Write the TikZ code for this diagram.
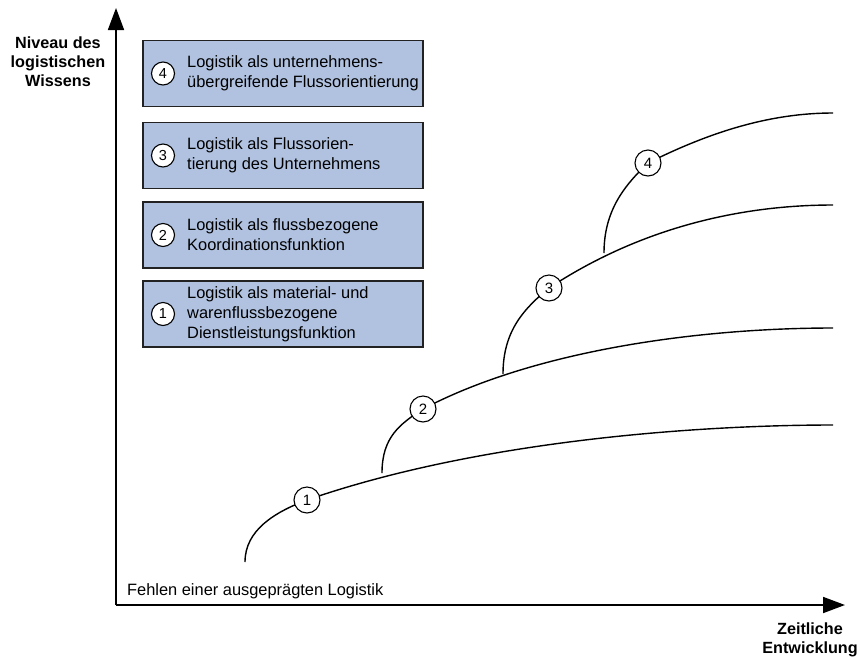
\documentclass[tikz,border=0pt]{standalone}
\usepackage{fontspec}
\setmainfont{Liberation Sans}
\usetikzlibrary{arrows.meta}
\definecolor{boxblue}{HTML}{B0C2E0}
\definecolor{boxline}{HTML}{222222}
\begin{document}
\begin{tikzpicture}[x=1pt,y=-1pt,
  axis/.style={line width=1.8pt,-{Triangle[length=22pt,width=16pt]}},
  curve/.style={line width=1.4pt},
  lvlbox/.style={draw=boxline,line width=1.8pt,fill=boxblue,minimum width=280pt,minimum height=66pt,inner sep=0pt},
  boxnum/.style={draw,circle,fill=white,line width=1.1pt,minimum size=23pt,inner sep=0pt,font=\fontsize{14.5}{16}\selectfont},
  curvenum/.style={draw,circle,fill=white,line width=1.1pt,minimum size=26pt,inner sep=0pt,font=\fontsize{15}{16}\selectfont},
  boxtext/.style={anchor=west,align=left,inner sep=0pt,font=\fontsize{16.4}{20}\selectfont},
  axlabel/.style={align=center,inner sep=0pt,font=\bfseries\fontsize{16.2}{19}\selectfont}
]
\useasboundingbox (0,0) rectangle (860,657);
% axes
\coordinate (O) at (116,605);
\coordinate (ytip) at (116,8);
\coordinate (xtip) at (845,605);
\draw[axis] (O) -- (ytip);
\draw[axis] (O) -- (xtip);
\node[axlabel] (ylab) at (58,62) {Niveau des\\logistischen\\Wissens};
\node[axlabel] (xlab) at (810,640) {Zeitliche\\Entwicklung};
\node[anchor=west,inner sep=0pt,font=\fontsize{16.4}{19}\selectfont] (fehlen) at (127,591) {Fehlen einer ausgeprägten Logistik};
% boxes
\node[lvlbox] (b4) at (283,73.5) {};
\node[boxnum] (n4) at (163,73.5) {4};
\node[boxtext] (t4) at (187,73.5) {Logistik als unternehmens-\\übergreifende Flussorientierung};
\node[lvlbox] (b3) at (283,155.5) {};
\node[boxnum] (n3) at (163,155.5) {3};
\node[boxtext] (t3) at (187,155.5) {Logistik als Flussorien-\\tierung des Unternehmens};
\node[lvlbox] (b2) at (283,235) {};
\node[boxnum] (n2) at (163,235) {2};
\node[boxtext] (t2) at (187,235) {Logistik als flussbezogene\\Koordinationsfunktion};
\node[lvlbox] (b1) at (283,314) {};
\node[boxnum] (n1) at (163,314) {1};
\node[boxtext] (t1) at (187,314) {Logistik als material- und\\warenflussbezogene\\Dienstleistungsfunktion};
% curve points
\coordinate (s1) at (245,562);
\coordinate (p1) at (307,500);
\coordinate (e1) at (833,425);
\coordinate (j1) at (382,473);
\coordinate (p2) at (423,409);
\coordinate (e2) at (833,328);
\coordinate (j2) at (503,374);
\coordinate (p3) at (549,288);
\coordinate (e3) at (833,205);
\coordinate (j3) at (604,253);
\coordinate (p4) at (648,163);
\coordinate (e4) at (833,113);
\draw[curve] (s1) .. controls (245,530) and (275,512) .. (p1)
  .. controls (480,440) and (700,425) .. (e1);
\draw[curve] (j1) .. controls (382,437) and (400,424) .. (p2)
  .. controls (535,350) and (700,328) .. (e2);
\draw[curve] (j2) .. controls (503,330) and (525,308) .. (p3)
  .. controls (640,228) and (740,205) .. (e3);
\draw[curve] (j3) .. controls (604,210) and (625,185) .. (p4)
  .. controls (710,132) and (770,113) .. (e4);
\node[curvenum] (c1) at (p1) {1};
\node[curvenum] (c2) at (p2) {2};
\node[curvenum] (c3) at (p3) {3};
\node[curvenum] (c4) at (p4) {4};
\end{tikzpicture}
\end{document}
